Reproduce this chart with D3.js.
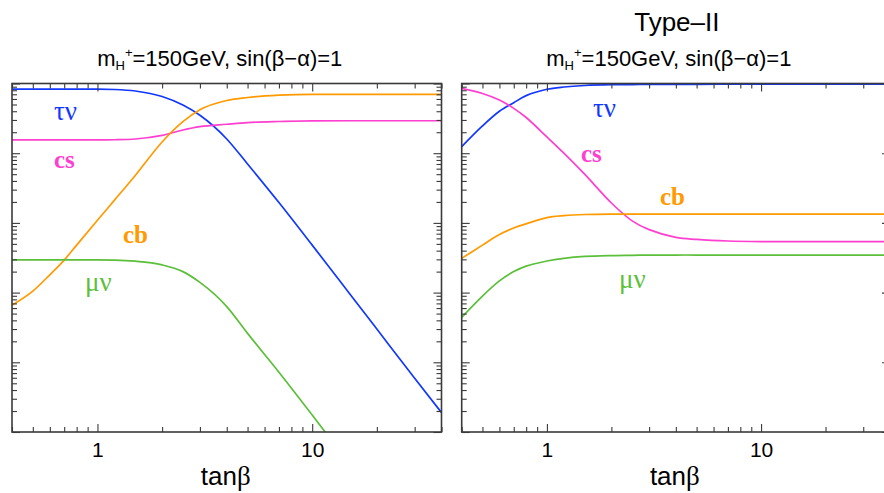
<!DOCTYPE html>
<html><head><meta charset="utf-8">
<script src="https://cdn.jsdelivr.net/npm/d3@7"></script>
<style>
html,body{margin:0;padding:0;background:#fff;overflow:hidden}
svg{display:block}
</style></head>
<body>
<svg id="chart" width="884" height="493"></svg>
<script>
// ---------- data ----------
const tanBeta = [0.4,0.5,0.6,0.7,0.8,1,1.2,1.5,2,2.5,3,4,5,7,10,15,20,30,40];

// left panel
const leftTauNu = [0.83,0.83,0.83,0.83,0.83,0.83,0.82,0.78,0.65,0.49,0.35,0.16,0.070,0.0196,4.8e-3,9.5e-4,3.0e-4,5.9e-5,1.9e-5];
const leftCs    = [0.155,0.155,0.155,0.155,0.155,0.155,0.156,0.16,0.18,0.215,0.24,0.26,0.275,0.285,0.29,0.292,0.292,0.292,0.292];
const leftCb    = [6.6e-4,1.05e-3,1.8e-3,2.93e-3,4.8e-3,0.0109,0.0212,0.048,0.145,0.283,0.42,0.57,0.63,0.68,0.70,0.70,0.70,0.70,0.70];
const leftMuNu  = [2.94e-3,2.94e-3,2.94e-3,2.94e-3,2.94e-3,2.94e-3,2.92e-3,2.82e-3,2.5e-3,2.0e-3,1.4e-3,6.3e-4,2.6e-4,7.2e-5,1.75e-5,3.4e-6,null,null,null];

// right panel (Type-II)
const rightTauNu = [0.124,0.246,0.40,0.53,0.67,0.826,0.89,0.936,0.962,0.966,0.968,0.972,0.974,0.975,0.975,0.975,0.975,0.975,0.975];
const rightCs    = [0.853,0.72,0.58,0.44,0.325,0.171,0.10,0.050,0.0193,0.0107,8.0e-3,6.2e-3,5.8e-3,5.5e-3,5.4e-3,5.4e-3,5.4e-3,5.4e-3,5.4e-3];
const rightCb    = [3.1e-3,4.8e-3,6.8e-3,8.45e-3,9.7e-3,0.0119,0.0127,0.0132,0.0134,0.0134,0.0134,0.0134,0.0134,0.0134,0.0134,0.0134,0.0134,0.0134,0.0134];
const rightMuNu  = [4.4e-4,8.9e-4,1.47e-3,2.0e-3,2.4e-3,2.84e-3,3.1e-3,3.3e-3,3.4e-3,3.43e-3,3.45e-3,3.46e-3,3.46e-3,3.46e-3,3.46e-3,3.46e-3,3.46e-3,3.46e-3,3.46e-3];

const xMajor = [1,10];
const xMinor = [0.4,0.5,0.6,0.7,0.8,0.9,2,3,4,5,6,7,8,9,20,30,40];
const xTickLabels = ["1","10"];
const yMajor = [1e-5,1e-4,1e-3,1e-2,1e-1,1];
const yMinor = [];
for (let k=-5;k<0;k++) for (let m=2;m<=9;m++) yMinor.push(m*Math.pow(10,k));

const seriesNames = ["τν","cs","cb","μν"];
const colors = {"τν":"#1238ff","cs":"#ff3fcf","cb":"#ff9a00","μν":"#5cbf3a"};

const panels = [
  {x0:12, x1:441.5, title:null,
   series:{"τν":leftTauNu,"cs":leftCs,"cb":leftCb,"μν":leftMuNu},
   labels:{"τν":[54,120],"cs":[54,168],"cb":[123,243],"μν":[85,291]}},
  {x0:461.7, x1:890, title:"Type–II",
   series:{"τν":rightTauNu,"cs":rightCs,"cb":rightCb,"μν":rightMuNu},
   labels:{"τν":[593,117],"cs":[581,162],"cb":[660,205],"μν":[619,288]}}
];

// ---------- drawing ----------
const svg = d3.select("#chart");
const yTop = 83.5, yBottom = 432;
const sans = "'Liberation Sans', Arial, Helvetica, sans-serif";
const serif = "'Liberation Serif', 'Times New Roman', serif";
const frameColor = "#3a3a3a";

panels.forEach((p,i) => {
  const x = d3.scaleLog().domain([0.4,40]).range([p.x0,p.x1]);
  const y = d3.scaleLog().domain([1e-5,1]).range([yBottom,yTop]);
  const g = svg.append("g");
  const cx = (p.x0+p.x1)/2 - 7;

  const clipId = "clip"+i;
  svg.append("clipPath").attr("id",clipId).append("rect")
    .attr("x",p.x0).attr("y",yTop).attr("width",p.x1-p.x0).attr("height",yBottom-yTop);

  const line = d3.line()
    .defined(d => d[1] != null)
    .x(d => x(d[0])).y(d => y(d[1]))
    .curve(i === 0 ? d3.curveMonotoneX : d3.curveCatmullRom.alpha(0.5));
  seriesNames.forEach(name => {
    const vals = p.series[name];
    const pts = tanBeta.map((t,j)=>[t, vals[j]]);
    g.append("path").attr("clip-path",`url(#${clipId})`)
      .attr("d", line(pts)).attr("fill","none")
      .attr("stroke", colors[name]).attr("stroke-width",1.7);
  });

  const styleAxis = sel => { sel.select(".domain").remove();
    sel.selectAll(".tick line").attr("stroke",frameColor).attr("stroke-width",1.1); };

  g.append("g").attr("transform",`translate(0,${yBottom})`)
    .call(d3.axisBottom(x).tickValues(xMinor).tickSizeInner(-5).tickSizeOuter(0).tickFormat(""))
    .call(styleAxis);
  g.append("g").attr("transform",`translate(0,${yBottom})`)
    .call(d3.axisBottom(x).tickValues(xMajor).tickSizeInner(-8).tickSizeOuter(0).tickPadding(10)
      .tickFormat((d,k)=>xTickLabels[k]))
    .call(styleAxis)
    .call(s => s.selectAll("text").attr("fill","#000").attr("font-size",21).attr("font-family",sans));
  g.append("g").attr("transform",`translate(0,${yTop})`)
    .call(d3.axisTop(x).tickValues(xMinor).tickSizeInner(-5).tickSizeOuter(0).tickFormat(""))
    .call(styleAxis);
  g.append("g").attr("transform",`translate(0,${yTop})`)
    .call(d3.axisTop(x).tickValues(xMajor).tickSizeInner(-8).tickSizeOuter(0).tickFormat(""))
    .call(styleAxis);
  g.append("g").attr("transform",`translate(${p.x0},0)`)
    .call(d3.axisLeft(y).tickValues(yMinor).tickSizeInner(-5).tickSizeOuter(0).tickFormat(""))
    .call(styleAxis);
  g.append("g").attr("transform",`translate(${p.x0},0)`)
    .call(d3.axisLeft(y).tickValues(yMajor).tickSizeInner(-8).tickSizeOuter(0).tickFormat(""))
    .call(styleAxis);
  g.append("g").attr("transform",`translate(${p.x1},0)`)
    .call(d3.axisRight(y).tickValues(yMinor).tickSizeInner(-5).tickSizeOuter(0).tickFormat(""))
    .call(styleAxis);
  g.append("g").attr("transform",`translate(${p.x1},0)`)
    .call(d3.axisRight(y).tickValues(yMajor).tickSizeInner(-8).tickSizeOuter(0).tickFormat(""))
    .call(styleAxis);

  g.append("rect").attr("x",p.x0).attr("y",yTop).attr("width",p.x1-p.x0).attr("height",yBottom-yTop)
    .attr("fill","none").attr("stroke",frameColor).attr("stroke-width",1.6);

  const xt = g.append("text").attr("x",cx+6).attr("y",485).attr("text-anchor","middle")
    .attr("font-family",sans).attr("font-size",26).attr("fill","#000");
  xt.append("tspan").text("tan");
  xt.append("tspan").attr("font-family",serif).attr("font-size",27).text("β");

  const st = g.append("text").attr("x",cx).attr("y",66).attr("text-anchor","middle")
    .attr("font-family",sans).attr("font-size",22).attr("fill","#000");
  st.append("tspan").text("m");
  st.append("tspan").attr("font-size",13).attr("dy",4).text("H");
  st.append("tspan").attr("font-size",13).attr("dy",-13).text("+");
  st.append("tspan").attr("dy",9).text("=150GeV, sin(β−α)=1");

  if (p.title) {
    g.append("text").attr("x",cx+8).attr("y",31).attr("text-anchor","middle")
      .attr("font-family",sans).attr("font-size",26).attr("fill","#000").text(p.title);
  }

  seriesNames.forEach(name => {
    const [lx,ly] = p.labels[name];
    const bold = (name==="cs"||name==="cb");
    g.append("text").attr("x",lx).attr("y",ly)
      .attr("font-family",serif).attr("font-size", bold ? 25 : 27)
      .attr("font-weight", bold ? "bold" : "normal")
      .attr("fill",colors[name]).text(name);
  });
});
</script>
</body></html>
